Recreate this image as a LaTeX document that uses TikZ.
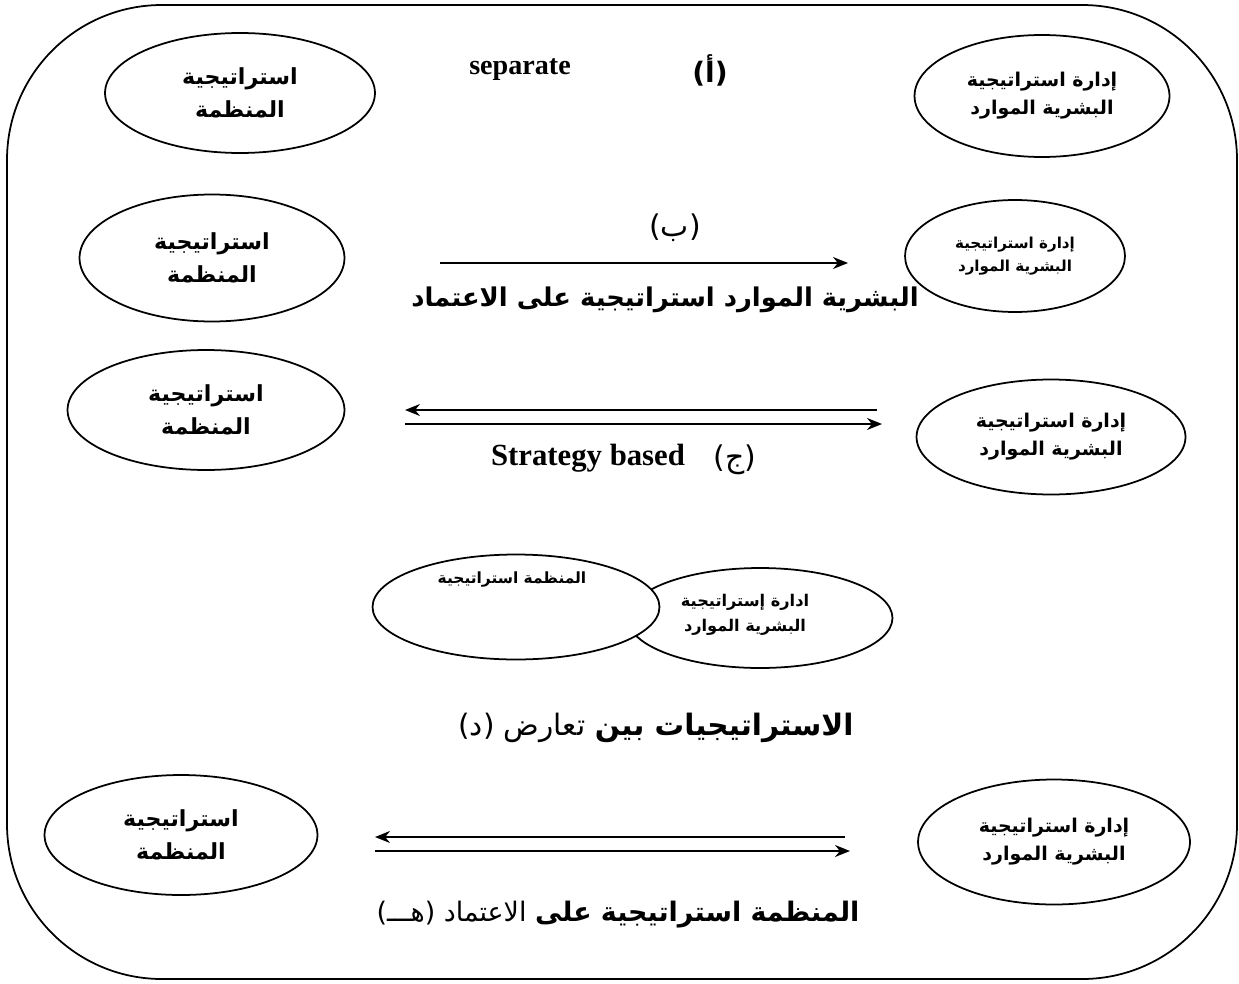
\documentclass[tikz,border=0pt]{standalone}
\usepackage{fontspec}
\setmainfont{Liberation Serif}
\newfontfamily\arabicfont[Script=Arabic]{DejaVu Sans}
\TeXXeTstate=1
\newcommand{\artext}[1]{\beginR #1\endR}
\usetikzlibrary{arrows.meta,shapes.geometric}
\tikzset{
  frame/.style={draw, line width=1pt, rounded corners=3.1cm},
  oval/.style={draw, ellipse, line width=1pt, fill=white, inner sep=0pt, align=center},
  orgbox/.style={oval, font=\arabicfont\bfseries\fontsize{12.6}{18.5}\selectfont},
  hrmbox/.style={oval, font=\arabicfont\bfseries\fontsize{10.8}{16}\selectfont},
  ovaltext/.style={align=center, inner sep=1pt, font=\arabicfont\bfseries\fontsize{9.2}{14.5}\selectfont},
  arrow/.style={-{Stealth[length=3mm,width=2.4mm]}, line width=1pt},
  entext/.style={font=\bfseries\fontsize{16}{18}\selectfont, inner sep=1pt},
  artag/.style={font=\arabicfont\fontsize{17}{20}\selectfont, inner sep=1pt},
  arcaption/.style={font=\arabicfont\fontsize{16}{20}\selectfont, inner sep=1pt}
}
\begin{document}
\begin{tikzpicture}[x=0.02cm,y=-0.02cm]
\useasboundingbox (0,0) rectangle (1239,983);
\draw[frame] (7,5) rectangle (1237,979);

% (a) separate
\node[orgbox, minimum width=5.4cm, minimum height=2.4cm] (orgA) at (240,93) {\artext{استراتيجية}\\\artext{المنظمة}};
\node[hrmbox, minimum width=5.1cm, minimum height=2.44cm] (hrmA) at (1042,96) {\artext{إدارة استراتيجية}\\\artext{البشرية الموارد}};
\node[entext] (sepText) at (520,70) {separate};
\node[artag, font=\arabicfont\bfseries\fontsize{16}{20}\selectfont] (tagA) at (710,70) {(أ)};

% (b)
\node[orgbox, minimum width=5.3cm, minimum height=2.54cm] (orgB) at (212,258) {\artext{استراتيجية}\\\artext{المنظمة}};
\node[hrmbox, minimum width=4.4cm, minimum height=2.24cm, font=\arabicfont\bfseries\fontsize{8.6}{13.5}\selectfont] (hrmB) at (1015,256) {\artext{إدارة استراتيجية}\\\artext{البشرية الموارد}};
\coordinate (bStart) at (440,263);
\coordinate (bEnd) at (848,263);
\draw[arrow] (bStart) -- (bEnd);
\node[artag] (tagB) at (675,228) {(ب)};
\node[arcaption, font=\arabicfont\bfseries\fontsize{14.7}{20}\selectfont] (capB) at (665,300) {\artext{البشرية الموارد استراتيجية على الاعتماد}};

% (c)
\node[orgbox, minimum width=5.54cm, minimum height=2.4cm] (orgC) at (206,410) {\artext{استراتيجية}\\\artext{المنظمة}};
\node[hrmbox, minimum width=5.38cm, minimum height=2.3cm] (hrmC) at (1051,437) {\artext{إدارة استراتيجية}\\\artext{البشرية الموارد}};
\coordinate (cTopR) at (877,410);
\coordinate (cTopL) at (405,410);
\coordinate (cLowL) at (405,424);
\coordinate (cLowR) at (882,424);
\draw[arrow] (cTopR) -- (cTopL);
\draw[arrow] (cLowL) -- (cLowR);
\node[entext, font=\bfseries\fontsize{17.5}{20}\selectfont] (stratText) at (588,458) {Strategy based};
\node[artag] (tagC) at (735,460) {(ج)};

% (d) overlapping ovals
\node[hrmbox, minimum width=5.3cm, minimum height=2cm] (hrmD) at (760,618) {};
\node[ovaltext] (hrmDtext) at (745,615) {\artext{ادارة إستراتيجية}\\\artext{البشرية الموارد}};
\node[orgbox, minimum width=5.74cm, minimum height=2.1cm] (orgD) at (516,607) {};
\node[ovaltext, font=\arabicfont\bfseries\fontsize{8.8}{12}\selectfont] (orgDtext) at (512,580) {\artext{المنظمة استراتيجية}};
\node[arcaption, font=\arabicfont\fontsize{16.8}{20}\selectfont] (capD) at (656,728) {\artext{{\bfseries الاستراتيجيات بين} تعارض (د)}};

% (e)
\node[orgbox, minimum width=5.46cm, minimum height=2.4cm] (orgE) at (181,835) {\artext{استراتيجية}\\\artext{المنظمة}};
\node[hrmbox, minimum width=5.44cm, minimum height=2.5cm] (hrmE) at (1054,842) {\artext{إدارة استراتيجية}\\\artext{البشرية الموارد}};
\coordinate (eTopR) at (845,837);
\coordinate (eTopL) at (375,837);
\coordinate (eLowL) at (375,851);
\coordinate (eLowR) at (850,851);
\draw[arrow] (eTopR) -- (eTopL);
\draw[arrow] (eLowL) -- (eLowR);
\node[arcaption, font=\arabicfont\fontsize{15.3}{20}\selectfont] (capE) at (618,915) {\artext{{\bfseries المنظمة استراتيجية على} الاعتماد (هـــ)}};
\end{tikzpicture}
\end{document}
